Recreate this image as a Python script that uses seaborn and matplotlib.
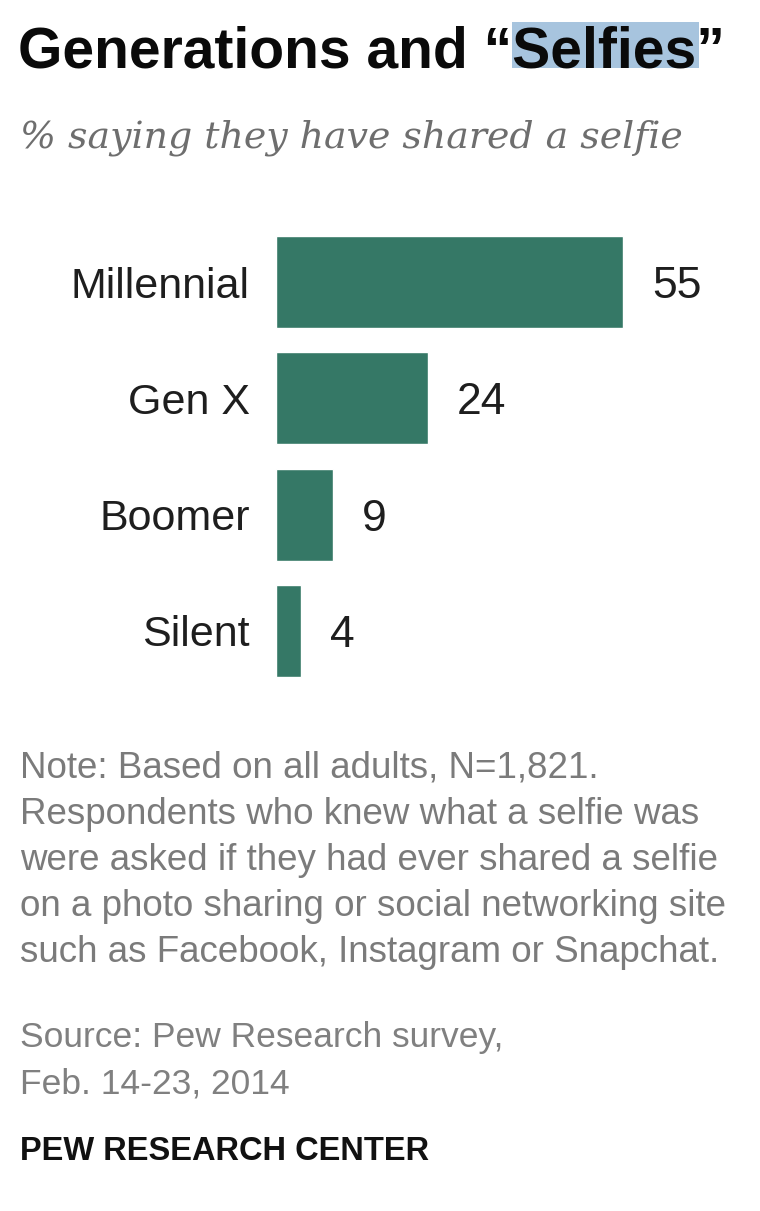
import matplotlib
matplotlib.use('Agg')
import matplotlib.pyplot as plt
import seaborn as sns
import pandas as pd
from matplotlib.patches import Rectangle

# Dados
generations = ['Millennial', 'Gen X', 'Boomer', 'Silent']
shared_selfie = [55, 24, 9, 4]

title_prefix = 'Generations and \u201c'
title_word = 'Selfies'
title_suffix = '\u201d'
subtitle = '% saying they have shared a selfie'
note_lines = [
    'Note: Based on all adults, N=1,821.',
    'Respondents who knew what a selfie was',
    'were asked if they had ever shared a selfie',
    'on a photo sharing or social networking site',
    'such as Facebook, Instagram or Snapchat.',
]
source_lines = ['Source: Pew Research survey,', 'Feb. 14-23, 2014']
credit = 'PEW RESEARCH CENTER'

sns.set_theme(style='white')
plt.rcParams['font.family'] = ['Liberation Sans', 'DejaVu Sans']

W, H = 760, 1211
fig = plt.figure(figsize=(W / 100, H / 100), dpi=100)
fig.patch.set_facecolor('white')


def fx(px):
    return px / W


def fy(px):
    return 1 - px / H


# Barras
ax = fig.add_axes([fx(276), fy(689), fx(442), 465 / H])
df = pd.DataFrame({'generation': generations, 'pct': shared_selfie})
sns.barplot(data=df, x='pct', y='generation', orient='h', color='#357866',
            saturation=1, width=0.79, ax=ax)
ax.set_xlim(0, 70)
ax.set_ylim(3.5, -0.5)
ax.set_xticks([])
ax.set_xlabel('')
ax.set_ylabel('')
sns.despine(ax=ax, left=True, bottom=True)
ax.tick_params(axis='y', length=0, pad=19, labelsize=31, labelcolor='#1e1e1e')
for lbl in ax.get_yticklabels():
    lbl.set_va('center_baseline')

# Valores
for i, v in enumerate(df['pct']):
    ax.annotate(f'{v}', xy=(v, i), xytext=(21, 0), textcoords='offset points',
                ha='left', va='center_baseline', fontsize=32, color='#1e1e1e')

# Titulo com destaque em "Selfies"
title_kw = dict(fontsize=41, fontweight='bold', color='#0a0a0a', va='baseline')
title_base = 67
fig.text(fx(18), fy(title_base), title_prefix + title_word + title_suffix,
         zorder=3, **title_kw)
fig.canvas.draw()
renderer = fig.canvas.get_renderer()
m1 = fig.text(fx(18), fy(title_base), title_prefix, alpha=0, **title_kw)
m2 = fig.text(fx(18), fy(title_base), title_prefix + title_word, alpha=0, **title_kw)
x0 = m1.get_window_extent(renderer).x1
x1 = m2.get_window_extent(renderer).x1
m1.remove()
m2.remove()
fig.patches.append(Rectangle((x0 / W, fy(title_base + 1)), (x1 - x0 + 3) / W, 46 / H,
                             transform=fig.transFigure, facecolor='#a7c4de',
                             edgecolor='none', zorder=1))

fig.text(fx(20), fy(147), subtitle, family='DejaVu Serif', style='italic',
         fontsize=27.3, color='#6e6e6e', va='baseline')

for i, line in enumerate(note_lines):
    fig.text(fx(20), fy(778 + 46 * i), line, fontsize=26.5, color='#7b7b7b',
             va='baseline')

for i, line in enumerate(source_lines):
    fig.text(fx(20), fy(1047 + 46 * i), line, fontsize=25.5, color='#808080',
             va='baseline')

fig.text(fx(20), fy(1160), credit, fontsize=23.5, fontweight='bold',
         color='#111111', va='baseline')

fig.savefig('out.png', dpi=100)
plt.close()
